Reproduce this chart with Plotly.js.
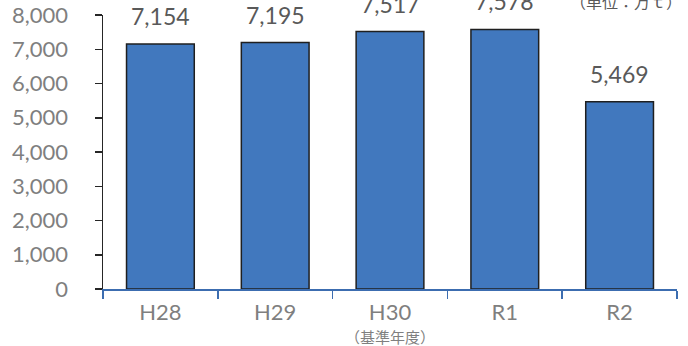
<!DOCTYPE html>
<html><head><meta charset="utf-8">
<script src="https://cdn.plot.ly/plotly-3.0.1.min.js"></script>
<style>html,body{margin:0;padding:0;background:#fff}#chart{width:688px;height:346px}</style>
</head><body><div id="chart"></div>
<script>
const categories = ["H28", "H29", "H30", "R1", "R2"];
const values = [7154, 7195, 7517, 7578, 5469];
const yTickVals = [0, 1000, 2000, 3000, 4000, 5000, 6000, 7000, 8000];
const yTickText = ["0", "1,000", "2,000", "3,000", "4,000", "5,000", "6,000", "7,000", "8,000"];
const baseYearNote = "（基準年度）";
const unitText = "（単位：万ｔ）";

const fmt = v => v.toLocaleString("en-US");
const numFont = "Lato, 'Open Sans', sans-serif";
const cjkFont = "'Noto Sans CJK JP', sans-serif";

const trace = {
  type: "bar",
  x: categories,
  y: values,
  marker: {color: "#4178BE", line: {color: "#1f1f1f", width: 1.5}},
  hoverinfo: "skip"
};

const annotations = categories.map((c, i) => ({
  x: c, y: values[i], xref: "x", yref: "y",
  text: fmt(values[i]), showarrow: false,
  yanchor: "bottom", yshift: 12,
  font: {family: numFont, size: 23, color: "#595959"}
}));
annotations.push({
  x: categories[2], y: 0, xref: "x", yref: "y",
  text: baseYearNote, showarrow: false, yanchor: "middle", yshift: -47,
  font: {family: cjkFont, size: 15, color: "#7f7f7f"}
});
annotations.push({
  x: 1.012, y: 1.051, xref: "paper", yref: "paper",
  xanchor: "right", yanchor: "middle",
  text: unitText, showarrow: false,
  font: {family: cjkFont, size: 16, color: "#595959"}
});

const layout = {
  width: 688, height: 346,
  margin: {l: 103, r: 11, t: 15, b: 57},
  paper_bgcolor: "#fff", plot_bgcolor: "#fff",
  showlegend: false,
  bargap: 0.41,
  xaxis: {
    type: "category",
    showline: true, linecolor: "#3C6DB0", linewidth: 1.5,
    ticks: "outside", tickson: "boundaries", ticklen: 8, tickcolor: "#3C6DB0", tickwidth: 1.5,
    showgrid: false, zeroline: false,
    tickfont: {family: numFont, size: 22, color: "#7f7f7f"},
    ticklabelstandoff: 3
  },
  yaxis: {
    range: [0, 8000],
    tickvals: yTickVals, ticktext: yTickText,
    showline: true, linecolor: "#262626", linewidth: 1.5,
    ticks: "outside", ticklen: 7, tickcolor: "#262626", tickwidth: 1.5,
    showgrid: false, zeroline: false,
    tickfont: {family: numFont, size: 22, color: "#7f7f7f"},
    ticklabelstandoff: 22
  },
  annotations: annotations
};

Plotly.newPlot("chart", [trace], layout, {displayModeBar: false, staticPlot: true});
</script></body></html>
